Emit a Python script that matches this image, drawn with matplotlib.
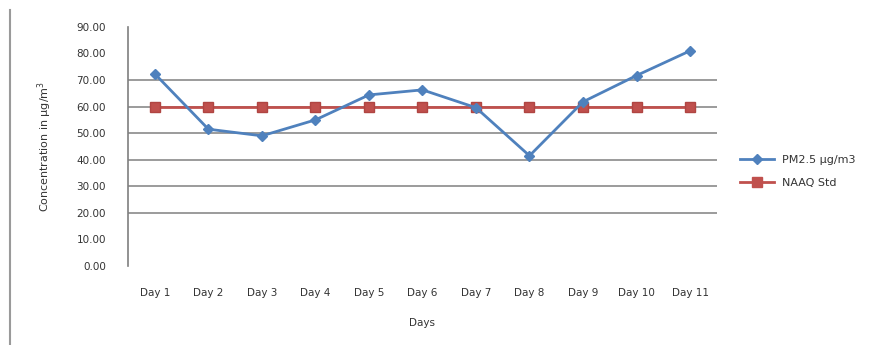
import matplotlib.pyplot as plt
from matplotlib.lines import Line2D

days = ['Day 1', 'Day 2', 'Day 3', 'Day 4', 'Day 5', 'Day 6',
        'Day 7', 'Day 8', 'Day 9', 'Day 10', 'Day 11']
pm25 = [72.3, 51.5, 49.0, 55.0, 64.4, 66.3, 59.6, 41.5, 61.8, 71.7, 81.0]
naaq = [60, 60, 60, 60, 60, 60, 60, 60, 60, 60, 60]
yticks = [0, 10, 20, 30, 40, 50, 60, 70, 80, 90]
grid_vals = [20, 30, 40, 50, 60, 70]

fig = plt.figure(figsize=(8.96, 3.45), dpi=100)
ax = fig.add_axes([0.143, 0.229, 0.657, 0.693])

x = list(range(len(days)))
for g in grid_vals:
    ax.axhline(g, color='#8a8a8a', lw=1.2, zorder=1)

ax.plot(x, naaq, color='#c0504d', lw=2, marker='s', ms=7,
        mfc='#c0504d', mec='#b04542', label='NAAQ Std', zorder=3)
ax.plot(x, pm25, color='#4f81bd', lw=2, marker='D', ms=5,
        mfc='#4f81bd', mec='#4f81bd', label='PM2.5 µg/m3', zorder=4)

ax.set_xlim(-0.5, len(days) - 0.5)
ax.set_ylim(0, 90)
ax.set_yticks(yticks)
ax.set_yticklabels(['%.2f' % v for v in yticks])
ax.set_xticks(x)
ax.set_xticklabels(days)
ax.tick_params(axis='both', length=0, labelsize=7.5, colors='#333333')
ax.tick_params(axis='y', pad=16)
ax.tick_params(axis='x', pad=16)

for s in ['top', 'right', 'bottom']:
    ax.spines[s].set_visible(False)
ax.spines['left'].set_color('#7f7f7f')
ax.spines['left'].set_linewidth(1.2)

ax.set_xlabel('Days', fontsize=7.5, color='#333333', labelpad=14)
ax.set_ylabel('Concentration in µg/m$^3$', fontsize=8, color='#333333',
              labelpad=16)

handles = [
    Line2D([], [], color='#4f81bd', lw=2, marker='D', ms=5),
    Line2D([], [], color='#c0504d', lw=2, marker='s', ms=7),
]
fig.legend(handles, ['PM2.5 µg/m3', 'NAAQ Std'], loc='upper left',
           bbox_to_anchor=(0.815, 0.58), frameon=False, fontsize=8,
           handlelength=3, labelspacing=1.2, labelcolor='#333333')

fig.add_artist(Line2D([0.011, 0.011], [0.0, 0.97], color='#9a9a9a', lw=1.5))

fig.savefig('out.png', dpi=100)
